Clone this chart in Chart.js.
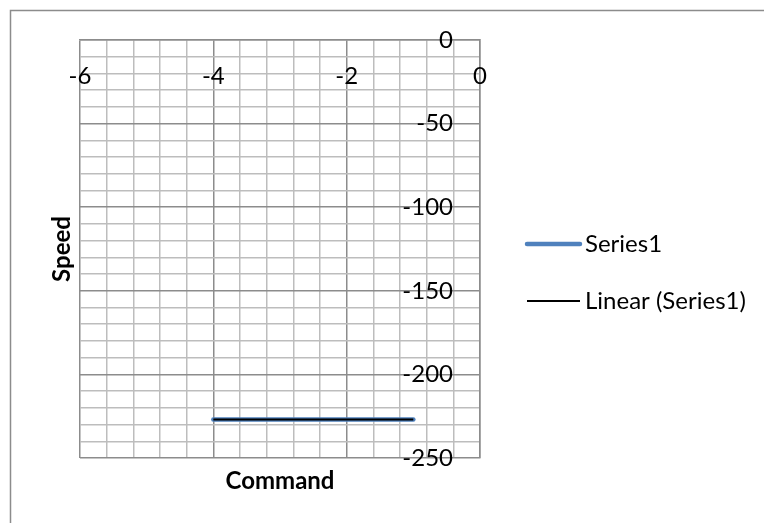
<!DOCTYPE html>
<html>
<head>
<meta charset="utf-8">
<script src="https://cdn.jsdelivr.net/npm/chart.js@4.4.0/dist/chart.umd.min.js"></script>
<style>
  body { margin: 0; background: #fff; }
  canvas { display: block; }
</style>
</head>
<body>
<canvas id="myChart" width="764" height="523"></canvas>
<script>
// values
const commandValues = [-4, -1];
const speedValues = [-227, -227];
const trendValues = [-227, -227];

const xTickLabels = [-6, -4, -2, 0];
const yTickLabels = [0, -50, -100, -150, -200, -250];

const majorColor = '#8c8c8c';
const minorColor = '#bdbdbd';

function isMajor(v, step) {
  const r = v / step;
  return Math.abs(r - Math.round(r)) < 1e-6;
}

// frame, tick labels, axis titles and legend, drawn on the scales
const excelLook = {
  id: 'excelLook',
  beforeDraw(chart) {
    const ctx = chart.ctx;
    ctx.save();
    ctx.strokeStyle = '#8c8c8c';
    ctx.lineWidth = 1.5;
    ctx.beginPath();
    ctx.moveTo(10.5, chart.height + 5);
    ctx.lineTo(10.5, 10.5);
    ctx.lineTo(chart.width + 5, 10.5);
    ctx.stroke();
    ctx.restore();
  },
  afterDraw(chart) {
    const { ctx, chartArea } = chart;
    const x = chart.scales.x;
    const y = chart.scales.y;
    ctx.save();
    ctx.fillStyle = '#000';
    ctx.font = '24px Lato';
    ctx.textBaseline = 'middle';

    ctx.textAlign = 'center';
    xTickLabels.forEach(v => {
      ctx.fillText(String(v), x.getPixelForValue(v), chartArea.top + 36);
    });

    ctx.textAlign = 'right';
    yTickLabels.forEach(v => {
      ctx.fillText(String(v), chartArea.right - 27, y.getPixelForValue(v));
    });

    // axis titles
    ctx.font = 'bold 24px Lato';
    ctx.textAlign = 'center';
    ctx.fillText('Command', (chartArea.left + chartArea.right) / 2, 481);
    ctx.save();
    ctx.translate(62, (chartArea.top + chartArea.bottom) / 2);
    ctx.rotate(-Math.PI / 2);
    ctx.fillText('Speed', 0, 0);
    ctx.restore();

    // legend
    ctx.font = '24px Lato';
    ctx.textAlign = 'left';
    const rows = [244, 301];
    chart.data.datasets.forEach((ds, i) => {
      ctx.strokeStyle = ds.borderColor;
      ctx.lineWidth = ds.borderWidth;
      ctx.lineCap = ds.borderCapStyle || 'butt';
      ctx.beginPath();
      ctx.moveTo(527, rows[i]);
      ctx.lineTo(580, rows[i]);
      ctx.stroke();
      ctx.fillText(ds.label, 585, rows[i]);
    });
    ctx.restore();
  }
};

const myChart = document.getElementById('myChart');

let scatterChart = new Chart(myChart, {
  type: 'scatter',
  data: {
    datasets: [{
      label: 'Series1',
      data: commandValues.map((c, i) => ({ x: c, y: speedValues[i] })),
      showLine: true,
      borderColor: '#4F81BD',
      borderWidth: 4.5,
      borderCapStyle: 'round',
      pointRadius: 0,
      order: 2
    }, {
      label: 'Linear (Series1)',
      data: commandValues.map((c, i) => ({ x: c, y: trendValues[i] })),
      showLine: true,
      borderColor: '#000000',
      borderWidth: 2,
      pointRadius: 0,
      order: 1
    }]
  },
  options: {
    responsive: false,
    animation: false,
    layout: { padding: { left: 80, top: 40, right: 284, bottom: 65 } },
    plugins: { legend: { display: false }, tooltip: { enabled: false } },
    scales: {
      x: {
        position: 'top',
        min: -6,
        max: 0,
        ticks: { display: false, stepSize: 0.4 },
        grid: {
          drawTicks: false,
          lineWidth: 1.5,
          color: ctx => isMajor(ctx.tick.value, 2) ? majorColor : minorColor
        },
        border: { color: majorColor, width: 1.5 }
      },
      y: {
        position: 'right',
        min: -250,
        max: 0,
        ticks: { display: false, stepSize: 10 },
        grid: {
          drawTicks: false,
          lineWidth: 1.5,
          color: ctx => isMajor(ctx.tick.value, 50) ? majorColor : minorColor
        },
        border: { color: majorColor, width: 1.5 }
      }
    }
  },
  plugins: [excelLook]
});
</script>
</body>
</html>
